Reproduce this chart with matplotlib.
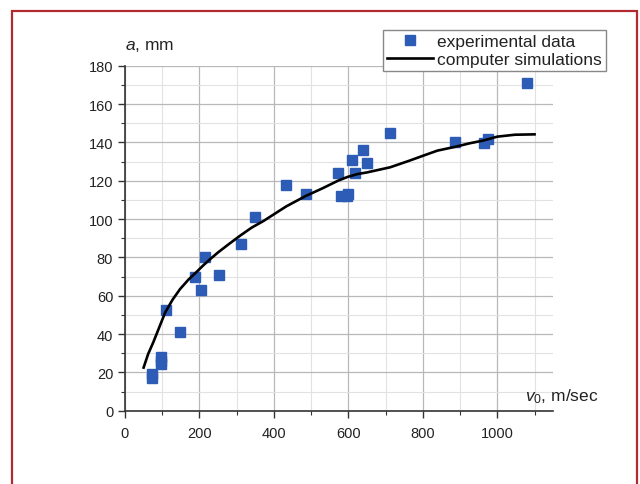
import matplotlib
matplotlib.use("Agg")
import matplotlib.pyplot as plt
from matplotlib.patches import Rectangle
from matplotlib.ticker import MultipleLocator

plt.rcParams['font.family'] = ['Liberation Sans', 'DejaVu Sans']
plt.rcParams['mathtext.fontset'] = 'custom'
plt.rcParams['mathtext.rm'] = 'Liberation Sans'
plt.rcParams['mathtext.it'] = 'Liberation Sans:italic'

# Experimental data
exp_v = [72, 72, 96, 96, 96, 109, 149, 189, 203, 214, 253, 311, 350, 433, 485,
         572, 581, 596, 600, 609, 619, 638, 649, 712, 887, 963, 974, 1081]
exp_a = [19, 17, 28, 26, 24.5, 52.5, 41, 70, 63, 80, 71, 87, 101, 118, 113,
         124, 112, 112, 113, 131, 124, 136, 129, 145, 140, 139.5, 142, 171]

# Computer simulations curve
sim_v = [50, 62, 76, 92, 108, 128, 148, 170, 190, 210, 230, 250, 278, 309, 340,
         372, 433, 485, 530, 572, 598, 625, 649, 712, 763, 800, 839, 887, 925,
         963, 1000, 1047, 1100]
sim_a = [22.5, 29.5, 35.7, 43.5, 51.3, 58, 63.5, 68.3, 72, 75.8, 79.3, 82.6,
         86.8, 91.3, 95.5, 99, 106.6, 112, 116, 120, 122, 123.5, 124.3, 127,
         130.4, 133, 135.7, 137.7, 139.5, 141, 143, 144, 144.2]

fig = plt.figure(figsize=(6.4, 4.85), dpi=100)
ax = fig.add_axes([0.1953, 0.1511, 0.669, 0.7113])

blue = '#2d5cb6'
ax.plot(exp_v, exp_a, linestyle='none', marker='s', markersize=6.5,
        color=blue, label='experimental data', zorder=3)
ax.plot(sim_v, sim_a, color='black', linewidth=1.9, label='computer simulations',
        zorder=4, solid_joinstyle='round')

ax.set_xlim(0, 1150)
ax.set_ylim(0, 180)
ax.xaxis.set_major_locator(MultipleLocator(200))
ax.xaxis.set_minor_locator(MultipleLocator(100))
ax.yaxis.set_major_locator(MultipleLocator(20))
ax.yaxis.set_minor_locator(MultipleLocator(10))

ax.grid(which='major', color='#b8b8b8', linewidth=0.9)
ax.grid(which='minor', color='#e2e2e2', linewidth=0.8)
ax.set_axisbelow(True)

for s in ['top', 'right']:
    ax.spines[s].set_visible(False)
for s in ['left', 'bottom']:
    ax.spines[s].set_color('#333333')
    ax.spines[s].set_linewidth(1.2)

ax.tick_params(which='major', direction='out', length=5, width=1.0,
               colors='#333333', labelsize=10.5, labelcolor='#222222')
ax.tick_params(which='minor', direction='out', length=3, width=0.8, colors='#333333')
ax.tick_params(axis='x', pad=6)

fig.text(125/640, 1-47/485, r'$\it{a}$, mm', fontsize=12.5, color='#222222',
         ha='left', va='center')
fig.text(598/640, 1-397/485, r'$v_{\it{0}}$, m/sec', fontsize=12.5, color='#222222',
         ha='right', va='center')

leg = fig.legend(loc='upper right', bbox_to_anchor=(606/640, 1-31/485),
                 fontsize=12.5, frameon=True, fancybox=False, framealpha=1,
                 edgecolor='#888888', handlelength=2.6, handletextpad=0.25,
                 borderpad=0.25, labelspacing=0.12, borderaxespad=0)
leg.get_frame().set_linewidth(1.0)
for t in leg.get_texts():
    t.set_color('#222222')

frame = Rectangle((11.5/640, -0.05), (636.5-11.5)/640, 1.05 - 12/485,
                  transform=fig.transFigure, fill=False, edgecolor='#b22a30',
                  linewidth=1.6, clip_on=False)
fig.patches.append(frame)

fig.savefig('out.png', dpi=100)
